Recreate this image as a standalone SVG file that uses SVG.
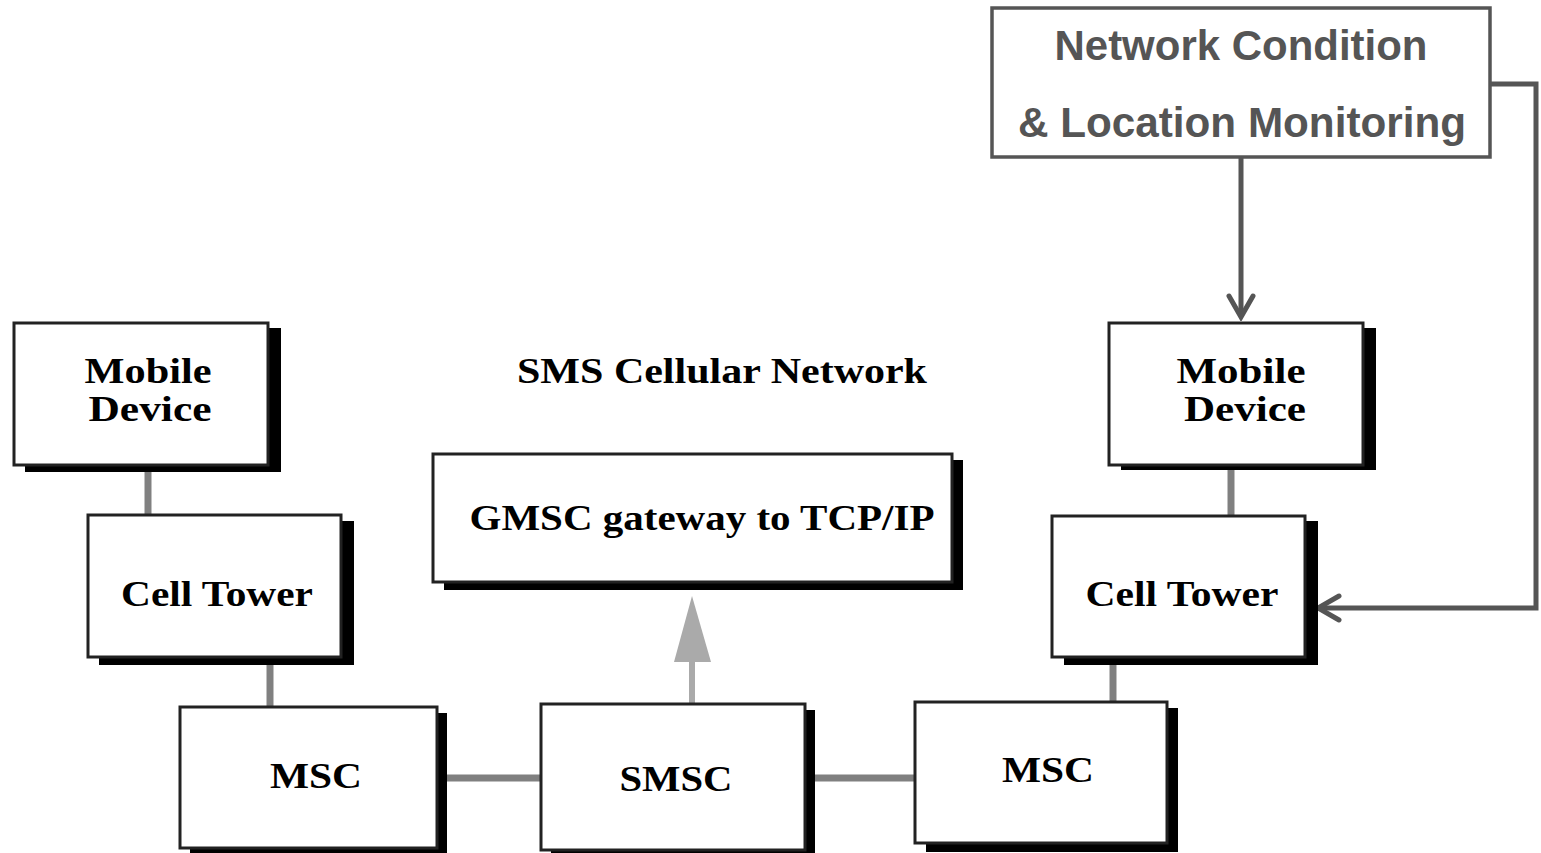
<svg xmlns="http://www.w3.org/2000/svg" width="1541" height="853" viewBox="0 0 1541 853">
<style>
.sh{fill:#000}
.bx{fill:#fff;stroke:#222;stroke-width:3}
.t{font-family:"Liberation Serif",serif;font-weight:bold;font-size:36px;fill:#000;text-anchor:middle}
.c{stroke:#808080;stroke-width:7;fill:none}
.m{font-family:"Liberation Sans",Arial,sans-serif;font-weight:bold;font-size:42px;fill:#555;text-anchor:middle}
.a{stroke:#555;stroke-width:5;fill:none}
</style>
<defs>
<marker id="chev" viewBox="0 0 30 30" refX="26" refY="15" markerWidth="30" markerHeight="30" markerUnits="userSpaceOnUse" orient="auto">
<path d="M5,3 L26,15 L5,27" fill="none" stroke="#555" stroke-width="5" stroke-linecap="round" stroke-linejoin="miter"/>
</marker>
</defs>
<g id="connectors">
<line class="c" x1="148" y1="468" x2="148" y2="516"/>
<line class="c" x1="270" y1="660" x2="270" y2="708"/>
<line class="c" x1="445" y1="778" x2="541" y2="778"/>
<line class="c" x1="812" y1="778" x2="916" y2="778"/>
<line class="c" x1="1113" y1="660" x2="1113" y2="703"/>
<line class="c" x1="1231" y1="468" x2="1231" y2="517"/>
<line x1="692" y1="704" x2="692" y2="655" stroke="#aaa" stroke-width="6"/>
<polygon points="692,596 674,662 711,662" fill="#aaa"/>
<polyline class="a" points="1241,157 1241,317" marker-end="url(#chev)"/>
<polyline class="a" points="1490,84 1536,84 1536,608 1318,608" marker-end="url(#chev)"/>
</g>
<g id="monitor">
<rect x="992" y="8" width="498" height="149" fill="#fff" stroke="#555" stroke-width="3.5"/>
<text class="m" x="1241" y="60" textLength="373" lengthAdjust="spacingAndGlyphs">Network Condition</text>
<text class="m" x="1242" y="137" textLength="448" lengthAdjust="spacingAndGlyphs">&amp; Location Monitoring</text>
</g>
<text id="title" class="t" x="722" y="383" textLength="410" lengthAdjust="spacingAndGlyphs">SMS Cellular Network</text>
<g id="mobile-left">
<rect class="sh" x="25" y="328" width="256" height="144"/>
<rect class="bx" x="14" y="323" width="254" height="142"/>
<text class="t" x="148" y="383" textLength="127" lengthAdjust="spacingAndGlyphs">Mobile</text>
<text class="t" x="150" y="421" textLength="123" lengthAdjust="spacingAndGlyphs">Device</text>
</g>
<g id="tower-left">
<rect class="sh" x="99" y="521" width="255" height="144"/>
<rect class="bx" x="88" y="515" width="253" height="142"/>
<text class="t" x="217" y="606" textLength="192" lengthAdjust="spacingAndGlyphs">Cell Tower</text>
</g>
<g id="msc-left">
<rect class="sh" x="190" y="713" width="257" height="145"/>
<rect class="bx" x="180" y="707" width="257" height="141"/>
<text class="t" x="316" y="788" textLength="92" lengthAdjust="spacingAndGlyphs">MSC</text>
</g>
<g id="gmsc">
<rect class="sh" x="444" y="460" width="519" height="130"/>
<rect class="bx" x="433" y="454" width="519" height="128"/>
<text class="t" x="702" y="530" textLength="465" lengthAdjust="spacingAndGlyphs">GMSC gateway to TCP/IP</text>
</g>
<g id="smsc">
<rect class="sh" x="551" y="710" width="264" height="148"/>
<rect class="bx" x="541" y="704" width="264" height="146"/>
<text class="t" x="676" y="791" textLength="113" lengthAdjust="spacingAndGlyphs">SMSC</text>
</g>
<g id="msc-right">
<rect class="sh" x="926" y="708" width="252" height="144"/>
<rect class="bx" x="915" y="702" width="252" height="141"/>
<text class="t" x="1048" y="782" textLength="92" lengthAdjust="spacingAndGlyphs">MSC</text>
</g>
<g id="tower-right">
<rect class="sh" x="1064" y="521" width="254" height="144"/>
<rect class="bx" x="1052" y="516" width="253" height="141"/>
<text class="t" x="1182" y="606" textLength="193" lengthAdjust="spacingAndGlyphs">Cell Tower</text>
</g>
<g id="mobile-right">
<rect class="sh" x="1121" y="328" width="255" height="142"/>
<rect class="bx" x="1109" y="323" width="254" height="142"/>
<text class="t" x="1241" y="383" textLength="129" lengthAdjust="spacingAndGlyphs">Mobile</text>
<text class="t" x="1245" y="421" textLength="122" lengthAdjust="spacingAndGlyphs">Device</text>
</g>
</svg>
